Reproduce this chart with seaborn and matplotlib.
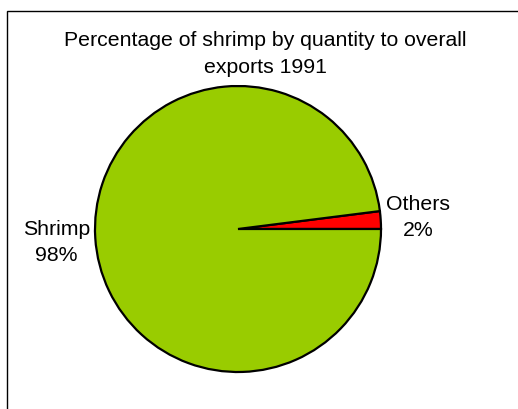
import matplotlib
matplotlib.use("Agg")
import matplotlib.pyplot as plt
import matplotlib.patches as mpatches
import seaborn as sns

sns.set_style("white")
plt.rcParams['font.family'] = ['Liberation Sans', 'DejaVu Sans']
plt.rcParams['text.color'] = 'black'

categories = ["Others", "Shrimp"]
shares = [2, 98]
colors = ["#FF0000", "#99CC00"]
title = "Percentage of shrimp by quantity to overall\nexports 1991"

W, H = 518, 410
f = plt.figure(figsize=(W / 100, H / 100), dpi=100)

# pie centre (238, 230) px, radius 143 px
cx, cy, r = 238, 230, 143
ax = f.add_axes([(cx - r) / W, (H - cy - r) / H, 2 * r / W, 2 * r / H])
ax.pie(shares, colors=colors, startangle=0, counterclock=True, radius=1,
       wedgeprops=dict(edgecolor="black", linewidth=1.6))
ax.set_xlim(-1, 1)
ax.set_ylim(-1, 1)
ax.set_aspect("equal")
ax.axis("off")

label_pos = {"Others": (1.26, 0.087), "Shrimp": (-1.27, -0.087)}
for cat, val in zip(categories, shares):
    x, y = label_pos[cat]
    ax.text(x, y, f"{cat}\n{val}%", ha="center", va="center", fontsize=15.3,
            linespacing=1.43, clip_on=False)

f.text(265.5 / W, 1 - 54 / H, title, ha="center", va="center", fontsize=15.3,
       linespacing=1.47)

# chart area border (cut off at right and bottom)
f.patches.append(mpatches.Rectangle((7 / W, -0.1), 1.2, 1 - 12 / H + 0.1,
                                    transform=f.transFigure, fill=False,
                                    edgecolor="black", linewidth=1))

f.savefig("out.png", dpi=100)
